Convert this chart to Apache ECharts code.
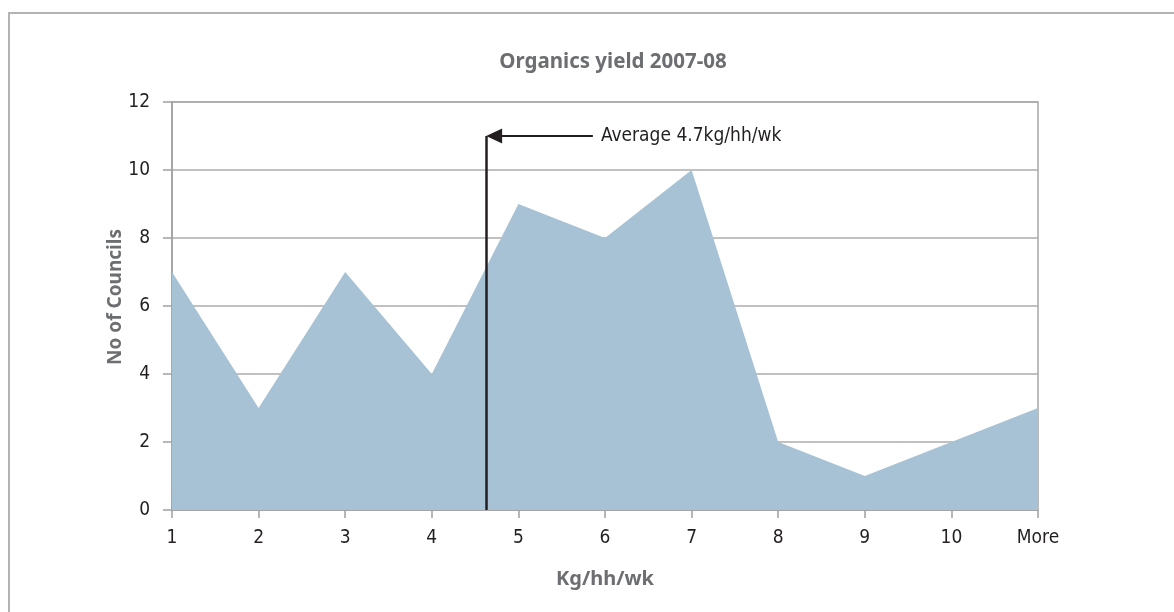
<!DOCTYPE html>
<html>
<head>
<meta charset="utf-8">
<title>Organics yield 2007-08</title>
<script src="https://cdn.jsdelivr.net/npm/echarts@6/dist/echarts.min.js"></script>
<style>
html,body{margin:0;padding:0;background:#fff;}
#container{width:1174px;height:612px;}
</style>
</head>
<body>
<div id="container"></div>
<script type="text/javascript">
// chart data
var categories = ['1', '2', '3', '4', '5', '6', '7', '8', '9', '10', 'More'];
var councils = [7, 3, 7, 4, 9, 8, 10, 2, 1, 2, 3];
var yTicks = [0, 2, 4, 6, 8, 10, 12];
// average marker (position, in category units)
var avgPos = 4.63;
var avgTop = 11;
var arrowStart = 5.86;
var avgLabel = 'Average 4.7kg/hh/wk';

var seriesData = [];
for (var i = 0; i < councils.length; i++) {
    seriesData.push([i + 1, councils[i]]);
}

var narrow = "'Liberation Sans Narrow', 'DejaVu Sans Condensed', sans-serif";
var bold = "'Noto Sans', 'Open Sans', sans-serif";

var myChart = echarts.init(document.getElementById('container'));
var option = {
    animation: false,
    backgroundColor: '#fff',
    title: {
        text: 'Organics yield 2007-08',
        left: 608,
        textAlign: 'center',
        top: 47,
        textStyle: {fontFamily: bold, fontWeight: 'bold', fontSize: 20.5, color: '#6d6e71'}
    },
    graphic: [{
        type: 'rect',
        z: -10,
        shape: {x: 9, y: 13, width: 1200, height: 700},
        style: {fill: 'none', stroke: '#b3b3b3', lineWidth: 2}
    }, {
        // y axis title
        type: 'text',
        x: 116,
        y: 297,
        rotation: Math.PI / 2,
        style: {
            text: 'No of Councils',
            font: "bold 19px 'Noto Sans', 'Open Sans', sans-serif",
            fill: '#6d6e71',
            textAlign: 'center',
            textVerticalAlign: 'middle'
        }
    }],
    grid: {
        left: 172, right: 136, top: 102, bottom: 102,
        show: true,
        borderColor: '#a6a6a6',
        borderWidth: 1.5
    },
    xAxis: {
        type: 'value',
        min: 1, max: 11, interval: 1,
        name: 'Kg/hh/wk',
        nameLocation: 'middle',
        nameGap: 59,
        nameTextStyle: {fontFamily: bold, fontWeight: 'bold', fontSize: 20, color: '#6d6e71'},
        splitLine: {show: false},
        axisLine: {lineStyle: {color: '#a0a0a0', width: 1.5}},
        axisTick: {show: true, length: 8, lineStyle: {color: '#a0a0a0', width: 1.5}},
        axisLabel: {
            margin: 19,
            fontFamily: narrow, fontSize: 19, color: '#231f20',
            formatter: function (v) { return categories[Math.round(v) - 1]; }
        }
    },
    yAxis: {
        type: 'value',
        min: yTicks[0], max: yTicks[yTicks.length - 1], interval: 2,
        axisLine: {show: true, lineStyle: {color: '#a0a0a0', width: 1.5}},
        axisTick: {show: true, length: 9, lineStyle: {color: '#a0a0a0', width: 1.5}},
        splitLine: {lineStyle: {color: '#acacac', width: 1.5}},
        axisLabel: {margin: 22, fontFamily: narrow, fontSize: 19, color: '#231f20'}
    },
    series: [{
        type: 'line',
        data: seriesData,
        symbol: 'none',
        lineStyle: {width: 0, color: '#a7c2d4'},
        itemStyle: {color: '#a7c2d4'},
        areaStyle: {color: '#a7c2d4', opacity: 1},
        markLine: {
            silent: true,
            animation: false,
            symbol: ['none', 'triangle'],
            symbolSize: 16,
            lineStyle: {color: '#231f20', width: 2, type: 'solid'},
            label: {show: false},
            data: [
                [{coord: [avgPos, 0], symbol: 'none', lineStyle: {width: 2.5}}, {coord: [avgPos, avgTop], symbol: 'none'}],
                [{
                    coord: [arrowStart, avgTop],
                    symbol: 'none',
                    label: {
                        show: true, position: 'start', distance: 8,
                        formatter: avgLabel,
                        fontFamily: narrow, fontSize: 19, color: '#231f20'
                    }
                }, {coord: [avgPos + 0.09, avgTop], symbol: 'triangle', symbolSize: [15, 16]}]
            ]
        }
    }]
};
myChart.setOption(option);
</script>
</body>
</html>
